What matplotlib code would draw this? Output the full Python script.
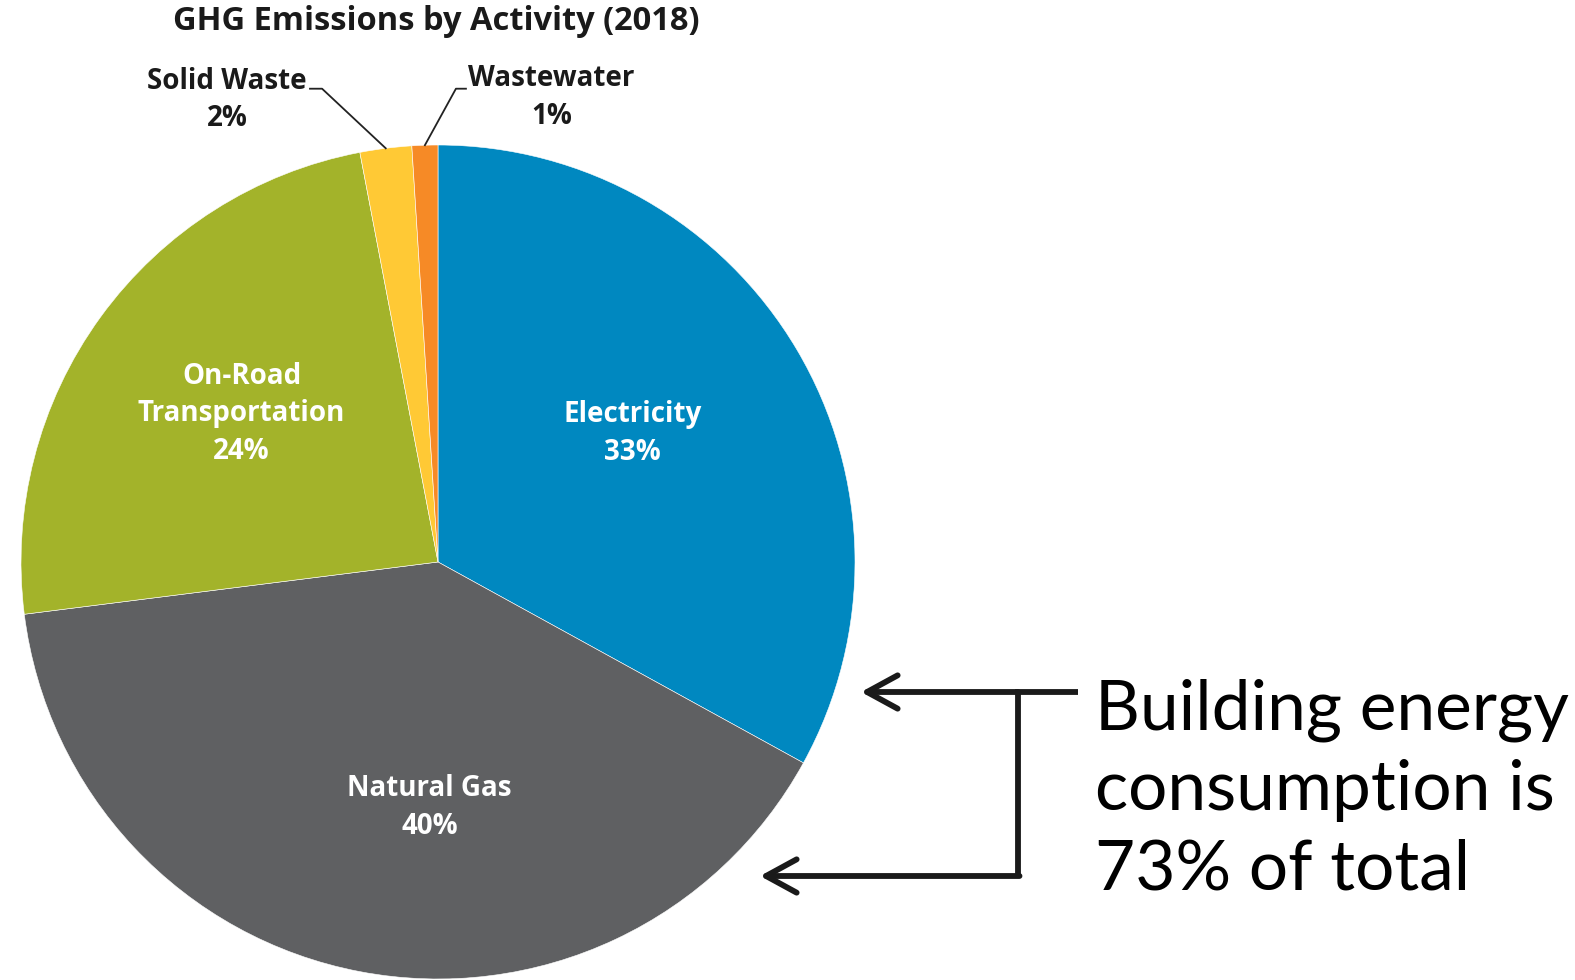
import matplotlib.pyplot as plt
import numpy as np

# GHG emissions by activity, 2018 (share of total, %)
activities = ['Electricity', 'Natural Gas', 'On-Road\nTransportation', 'Solid Waste', 'Wastewater']
shares = [33, 40, 24, 2, 1]
colors = ['#0088C0', '#5F6062', '#A3B32A', '#FFC935', '#F68A26']

# inside labels: (radius, angle in degrees) for the three big slices
inside_pos = {0: (0.56, 33.5), 1: (0.59, -92.0), 2: (0.59, 143.0)}
# outside labels for the thin slices: text position and elbow of the leader line
outside_pos = {3: ((-0.506, 1.108), (-0.278, 1.135), (-0.307, 1.135)),
               4: ((0.272, 1.113), (0.043, 1.135), (0.067, 1.135))}

fig = plt.figure(figsize=(15.75, 9.8), dpi=100)
W, H = 1575, 980
cx, cy, r = 438, 562, 417
ax = fig.add_axes([(cx - r) / W, (H - cy - r) / H, 2 * r / W, 2 * r / H])

wedges, _ = ax.pie(shares, colors=colors, startangle=90, counterclock=False,
                   radius=1, wedgeprops=dict(edgecolor='white', linewidth=0.4))
ax.set_xlim(-1, 1)
ax.set_ylim(-1, 1)
ax.set_aspect('equal')
ax.axis('off')

label_font = dict(family='Open Sans', fontweight='bold', fontsize=20,
                  ha='center', va='center', linespacing=1.4)

for i, (name, val) in enumerate(zip(activities, shares)):
    text = f'{name}\n{val}%'
    if i in inside_pos:
        rr, ang = inside_pos[i]
        x, y = rr * np.cos(np.radians(ang)), rr * np.sin(np.radians(ang))
        ax.text(x, y, text, color='white', **label_font)
    else:
        (tx, ty), (ex, ey), (hx, hy) = outside_pos[i]
        w = wedges[i]
        mid = np.radians((w.theta1 + w.theta2) / 2)
        ax.plot([np.cos(mid), ex, hx], [np.sin(mid), ey, hy],
                color='#222222', lw=1.3, clip_on=False)
        ax.text(tx, ty, text, color='#1a1a1a', clip_on=False, **label_font)

fig.text(436 / W, 1 - 22 / H, 'GHG Emissions by Activity (2018)', family='Open Sans',
         fontweight='bold', fontsize=23.5, ha='center', va='center', color='#1a1a1a')

# bracket with arrows pointing at the two building-energy slices
ov = fig.add_axes([0, 0, 1, 1])
ov.set_xlim(0, W)
ov.set_ylim(H, 0)
ov.axis('off')
y_top, y_bot, x_bar = 692, 876, 1018
ov.plot([1078, x_bar, x_bar], [y_top, y_top, y_bot],
        color='#1a1a1a', lw=4.2, solid_capstyle='butt', solid_joinstyle='miter')
arrow = dict(arrowstyle='->,head_length=2.2,head_width=1.2', color='#1a1a1a',
             lw=4.2, mutation_scale=10, shrinkA=0, shrinkB=0)
ov.annotate('', xy=(861, y_top), xytext=(x_bar, y_top), arrowprops=arrow)
ov.annotate('', xy=(760, y_bot), xytext=(x_bar + 1.5, y_bot), arrowprops=arrow)

ov.text(1095, 790, 'Building energy\nconsumption is\n73% of total', family='Lato',
        fontsize=50, ha='left', va='center', linespacing=1.32, color='black')

fig.savefig('out.png', dpi=100, facecolor='white')
